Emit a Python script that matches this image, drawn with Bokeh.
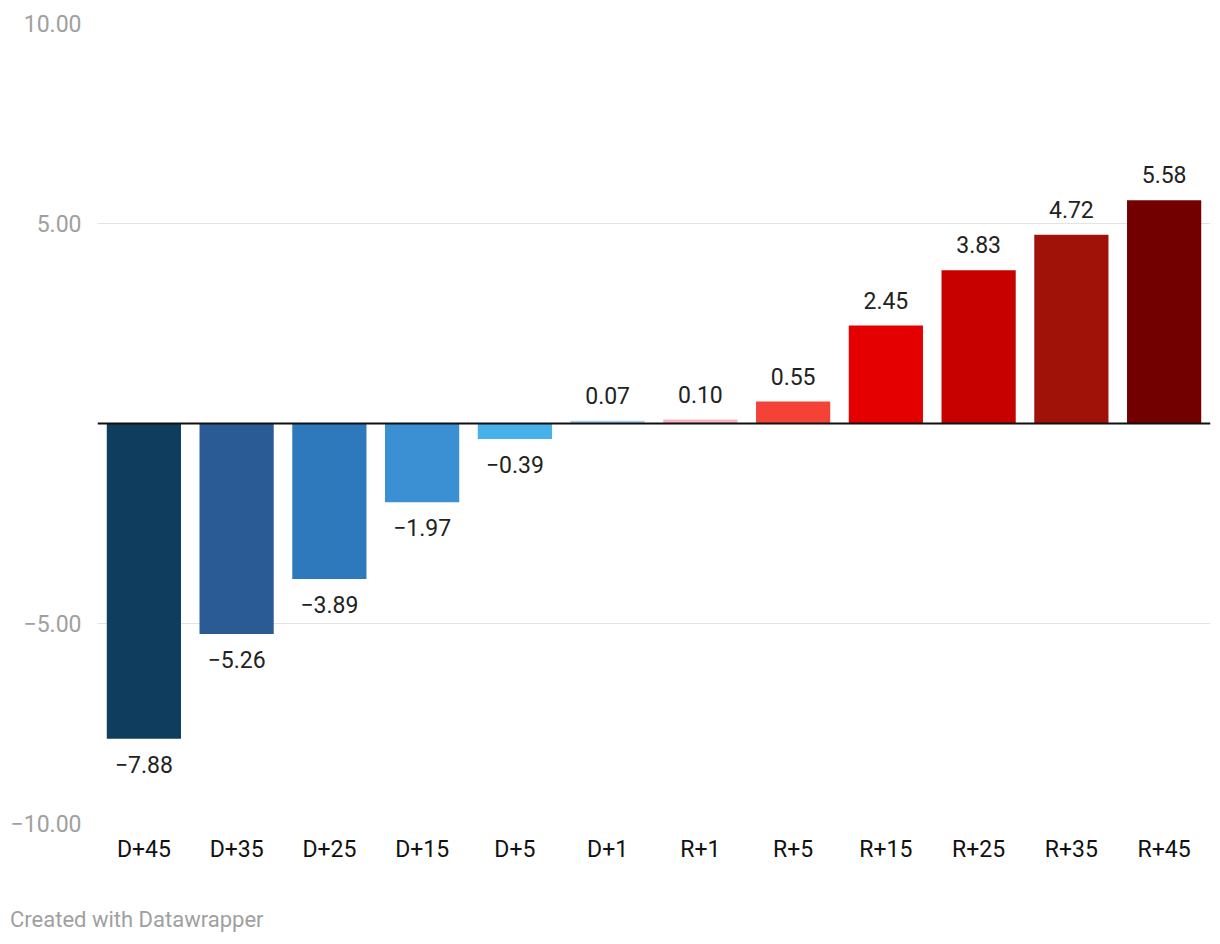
from bokeh.plotting import figure
from bokeh.models import ColumnDataSource, FixedTicker, Span, Div
from bokeh.layouts import column
from bokeh.core.properties import value
from bokeh.embed import file_html
from bokeh.resources import INLINE

categories = ["D+45", "D+35", "D+25", "D+15", "D+5", "D+1", "R+1", "R+5", "R+15", "R+25", "R+35", "R+45"]
values = [-7.88, -5.26, -3.89, -1.97, -0.39, 0.07, 0.10, 0.55, 2.45, 3.83, 4.72, 5.58]
colors = ["#0e3d5d", "#2a5b95", "#2e79bb", "#3a90d2", "#47b1ea", "#a9d1ef",
          "#f8b4c3", "#f44336", "#e50000", "#c70000", "#a01208", "#730000"]
y_ticks = [-10, -5, 5, 10]

def fmt(v):
    s = "%.2f" % abs(v)
    return ("\u2212" + s) if v < 0 else s

pos = [v >= 0 for v in values]
src = ColumnDataSource(dict(cat=categories, val=values, color=colors))
src_pos = ColumnDataSource(dict(cat=[c for c, p in zip(categories, pos) if p],
                                val=[v for v, p in zip(values, pos) if p],
                                lab=[fmt(v) for v, p in zip(values, pos) if p]))
src_neg = ColumnDataSource(dict(cat=[c for c, p in zip(categories, pos) if not p],
                                val=[v for v, p in zip(values, pos) if not p],
                                lab=[fmt(v) for v, p in zip(values, pos) if not p]))

p = figure(x_range=categories, y_range=(-10, 10), width=1212, height=865,
           output_backend="svg", toolbar_location=None,
           min_border_left=97, min_border_right=2, min_border_top=23, min_border_bottom=42)
p.outline_line_color = None
p.background_fill_color = "white"

p.vbar(x="cat", top="val", bottom=0, width=0.8, fill_color="color", line_color=None, source=src)

p.text(x="cat", y="val", text="lab", source=src_pos, text_align="center", text_baseline="bottom",
       y_offset=-17, text_font=value("Roboto"), text_font_size="23px", text_color="#222222")
p.text(x="cat", y="val", text="lab", source=src_neg, text_align="center", text_baseline="top",
       y_offset=17, text_font=value("Roboto"), text_font_size="23px", text_color="#222222")

p.add_layout(Span(location=0, dimension="width", line_color="#111111", line_width=2))

p.xgrid.grid_line_color = None
p.ygrid.grid_line_color = "#e3e3e3"
p.ygrid.grid_line_width = 1
p.yaxis.ticker = FixedTicker(ticks=y_ticks)
p.yaxis.major_label_overrides = {t: fmt(t) for t in y_ticks}
p.yaxis.axis_line_color = None
p.yaxis.major_tick_line_color = None
p.yaxis.minor_tick_line_color = None
p.yaxis.major_label_text_font = "Roboto"
p.yaxis.major_label_text_font_size = "23px"
p.yaxis.major_label_text_color = "#a0a0a0"
p.yaxis.major_label_standoff = 10

p.xaxis.axis_line_color = None
p.xaxis.major_tick_line_color = None
p.xaxis.minor_tick_line_color = None
p.xaxis.major_label_text_font = "Roboto"
p.xaxis.major_label_text_font_size = "23px"
p.xaxis.major_label_text_color = "#111111"
p.xaxis.major_label_standoff = 6

footer = Div(text="Created with Datawrapper", width=400, height=26, margin=(42, 0, 0, 10),
             styles={"font-family": "Roboto", "font-size": "22px", "color": "#a0a0a0",
                     "line-height": "26px"})

layout = column(p, footer, spacing=0)
open("out.html", "w").write(file_html(layout, INLINE))
